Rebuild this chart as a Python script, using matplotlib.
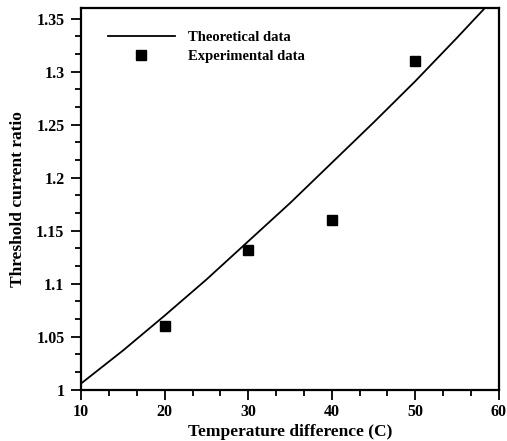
import matplotlib.pyplot as plt
from matplotlib.ticker import MultipleLocator, AutoMinorLocator, FormatStrFormatter

plt.rcParams['font.family'] = ['Liberation Serif', 'DejaVu Serif']
plt.rcParams['font.weight'] = 'bold'

# theoretical curve
theory_x = [10, 15, 20, 25, 30, 35, 40, 45, 50, 55, 60]
theory_y = [1.006, 1.037, 1.070, 1.104, 1.140, 1.176, 1.214, 1.252, 1.291, 1.332, 1.374]

# measured points
exp_x = [20, 30, 40, 50]
exp_y = [1.060, 1.132, 1.160, 1.310]

fig = plt.figure(figsize=(5.07, 4.41), dpi=100)
ax = fig.add_axes([0.16, 0.116, 0.824, 0.866])

ax.plot(theory_x, theory_y, color='black', lw=1.3, label='Theoretical data')
ax.plot(exp_x, exp_y, 's', color='black', ms=7.5, label='Experimental data')

ax.set_xlim(10, 60)
ax.set_ylim(1.0, 1.36)
ax.xaxis.set_major_locator(MultipleLocator(10))
ax.xaxis.set_minor_locator(AutoMinorLocator(3))
ax.yaxis.set_major_locator(MultipleLocator(0.05))
ax.yaxis.set_minor_locator(AutoMinorLocator(3))
ax.yaxis.set_major_formatter(FormatStrFormatter('%g'))

ax.tick_params(which='both', direction='out', top=False, right=False, width=1.3, labelsize=11.5)
ax.tick_params(axis='x', pad=3)
ax.tick_params(axis='y', pad=5)
ax.tick_params(which='major', length=7)
ax.tick_params(which='minor', length=4.5)
for s in ax.spines.values():
    s.set_linewidth(1.6)

ax.set_xlabel('Temperature difference (C)', fontsize=12.5, fontweight='bold', labelpad=3)
ax.set_ylabel('Threshold current ratio', fontsize=12.5, fontweight='bold', labelpad=7)

ax.legend(loc='upper left', frameon=False, fontsize=10.5, handlelength=4.6,
          handletextpad=0.9, borderaxespad=0.0, bbox_to_anchor=(0.05, 0.955),
          labelspacing=0.4)

plt.savefig('out.png', dpi=100)
plt.close()
